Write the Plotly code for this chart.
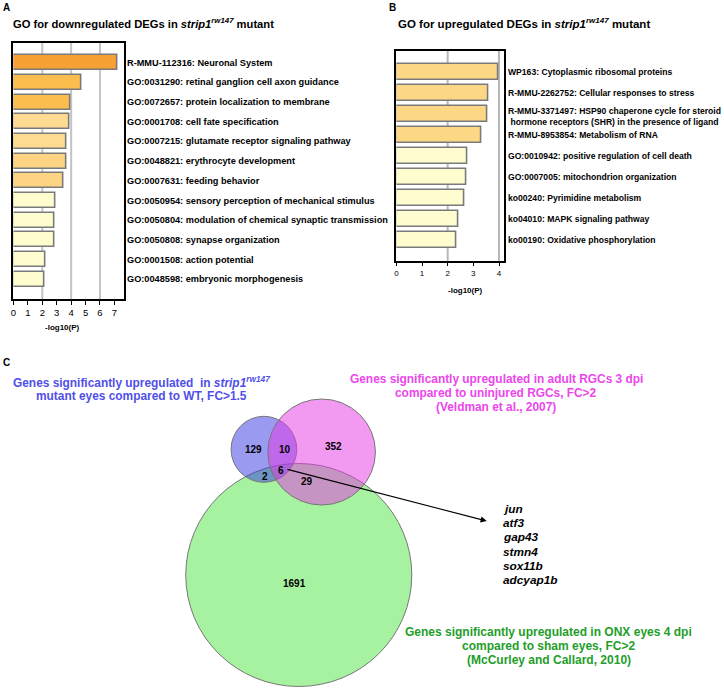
import plotly.graph_objects as go

# ---------------- data ----------------
a_terms = [
    "R-MMU-112316: Neuronal System",
    "GO:0031290: retinal ganglion cell axon guidance",
    "GO:0072657: protein localization to membrane",
    "GO:0001708: cell fate specification",
    "GO:0007215: glutamate receptor signaling pathway",
    "GO:0048821: erythrocyte development",
    "GO:0007631: feeding behavior",
    "GO:0050954: sensory perception of mechanical stimulus",
    "GO:0050804: modulation of chemical synaptic transmission",
    "GO:0050808: synapse organization",
    "GO:0001508: action potential",
    "GO:0048598: embryonic morphogenesis",
]
a_values = [7.24, 4.71, 3.95, 3.88, 3.65, 3.67, 3.49, 2.92, 2.87, 2.85, 2.23, 2.18]

b_terms = [
    "WP163: Cytoplasmic ribosomal proteins",
    "R-MMU-2262752: Cellular responses to stress",
    "R-MMU-3371497: HSP90 chaperone cycle for steroid<br> hormone receptors (SHR) in the presence of ligand",
    "R-MMU-8953854: Metabolism of RNA",
    "GO:0010942: positive regulation of cell death",
    "GO:0007005: mitochondrion organization",
    "ko00240: Pyrimidine metabolism",
    "ko04010: MAPK signaling pathway",
    "ko00190: Oxidative phosphorylation",
]
b_values = [3.98, 3.57, 3.54, 3.33, 2.75, 2.74, 2.65, 2.41, 2.32]

a_ticks = [0, 1, 2, 3, 4, 5, 6, 7]
b_ticks = [0, 1, 2, 3, 4]

venn_labels = {
    "blue": ["Genes significantly upregulated  in <i>strip1</i><sup><i>rw147</i></sup>",
             "mutant eyes compared to WT, FC>1.5"],
    "pink": ["Genes significantly upregulated in adult RGCs 3 dpi",
             "compared to uninjured RGCs, FC>2",
             "(Veldman et al., 2007)"],
    "green": ["Genes significantly upregulated in ONX eyes 4 dpi",
              "compared to sham eyes, FC>2",
              "(McCurley and Callard, 2010)"],
}
venn_regions = ["blue_only", "blue_pink", "pink_only", "blue_green", "all", "pink_green", "green_only"]
venn_counts = [129, 10, 352, 2, 6, 29, 1691]
genes = ["jun", "atf3", "gap43", "stmn4", "sox11b", "adcyap1b"]

# ---------------- styles / layout geometry ----------------
W, H = 724, 688
FONT = "Liberation Sans, Arial, sans-serif"


def px(x):
    return x / W


def py(y):
    return 1 - y / H


a_colors = ["#F7A033", "#FBBD4E", "#FBBD4E", "#FDDC92", "#FDDC92", "#FCD483", "#FCD483",
            "#FFFDCF", "#FFFDCF", "#FFFDCF", "#FFFDCF", "#FFFDCF"]
b_colors = ["#FCD886"] * 4 + ["#FFFDCF"] * 5

fig = go.Figure()

fig.add_trace(go.Bar(
    x=a_values, y=list(range(len(a_values))), orientation="h",
    marker=dict(color=a_colors, line=dict(color="#7a7a7a", width=1.6)),
    width=0.76, xaxis="x", yaxis="y", hoverinfo="x",
))
fig.add_trace(go.Bar(
    x=b_values, y=list(range(len(b_values))), orientation="h",
    marker=dict(color=b_colors, line=dict(color="#7a7a7a", width=1.6)),
    width=0.75, xaxis="x2", yaxis="y2", hoverinfo="x",
))

axis_common = dict(showline=True, linecolor="black", linewidth=1.5, mirror=True,
                   showgrid=False, zeroline=False)

fig.update_layout(
    width=W, height=H, margin=dict(l=0, r=0, t=0, b=0),
    paper_bgcolor="white", plot_bgcolor="rgba(0,0,0,0)",
    showlegend=False, bargap=0,
    font=dict(family=FONT, color="black"),
    xaxis=dict(domain=[px(10.5), px(122)], range=[0, 7.7], anchor="y",
               tickvals=a_ticks, ticks="outside", ticklen=4, tickwidth=1.3, tickcolor="black",
               tickfont=dict(size=9.5, family=FONT, color="black"),
               **axis_common),
    yaxis=dict(domain=[py(299), py(43)], range=[len(a_values), -1], anchor="x",
               showticklabels=False, ticks="", **axis_common),
    xaxis2=dict(domain=[px(395), px(502.7)], range=[0, 4.18], anchor="y2",
                tickvals=b_ticks, ticks="outside", ticklen=4, tickwidth=1.2, tickcolor="black",
                tickfont=dict(size=8, family=FONT, color="black"),
                **axis_common),
    yaxis2=dict(domain=[py(260.7), py(51)], range=[len(b_values), -1], anchor="x2",
                showticklabels=False, ticks="", **axis_common),
)

shapes = []
# gridlines
for g in a_ticks[2::2]:
    shapes.append(dict(type="line", xref="x", yref="y domain", x0=g, x1=g, y0=0, y1=1,
                       line=dict(color="#c4c4c4", width=2), layer="below"))
for g in b_ticks[2::2]:
    shapes.append(dict(type="line", xref="x2", yref="y2 domain", x0=g, x1=g, y0=0, y1=1,
                       line=dict(color="#b8b8b8", width=2), layer="below"))

# Venn circles (pixel geometry): green, blue, pink (drawn in that order)
circles = [
    ((297, 575), (113.5, 111.5), "rgba(77,229,65,0.5)"),
    ((262, 449.3), (33, 33), "rgba(53,53,225,0.5)"),
    ((320, 452), (54, 53), "rgba(229,53,229,0.5)"),
]
for (cx, cy), (rx, ry), col in circles:
    shapes.append(dict(type="circle", xref="paper", yref="paper",
                       x0=px(cx - rx), x1=px(cx + rx), y0=py(cy + ry), y1=py(cy - ry),
                       fillcolor=col, line=dict(color="#777777", width=1), layer="above"))
fig.update_layout(shapes=shapes)

ann = []


def text(x, y, s, size, color="black", xanchor="left", yanchor="middle", align="left", bold=True):
    ann.append(dict(xref="paper", yref="paper", x=px(x), y=py(y), text=(f"<b>{s}</b>" if bold else s),
                    showarrow=False, xanchor=xanchor, yanchor=yanchor, align=align,
                    font=dict(size=size, color=color, family=FONT)))


# panel letters and titles
text(4, 7, "A", 10, xanchor="center")
text(390.7, 7, "B", 10, xanchor="center")
text(4, 362, "C", 10, xanchor="center")
text(8, 23, "GO for downregulated DEGs in <i>strip1</i><sup><i>rw147</i></sup> mutant", 11.2)
text(394.5, 23, "GO for upregulated DEGs in <i>strip1</i><sup><i>rw147</i></sup> mutant", 11.5)
text(60, 327, "-log10(P)", 8, xanchor="center")
text(464, 290, "-log10(P)", 8, xanchor="center")

# bar labels
for i, t in enumerate(a_terms):
    ann.append(dict(xref="paper", yref="y", x=px(122.5), y=i, text=f"<b>{t}</b>", showarrow=False,
                    xanchor="left", yanchor="middle", align="left",
                    font=dict(size=9.2, family=FONT, color="black")))
for i, t in enumerate(b_terms):
    yy = i + (0.12 if "<br>" in t else 0)
    ann.append(dict(xref="paper", yref="y2", x=px(505.5), y=yy, text=f"<b>{t}</b>", showarrow=False,
                    xanchor="left", yanchor="middle", align="left",
                    font=dict(size=8.6, family=FONT, color="black")))

# Venn set labels (one annotation per line)
label_style = {
    "blue": (139, 382, "#5050E8", 11.9),
    "pink": (495.5, 379, "#EC46EC", 11.9),
    "green": (548, 631.7, "#1E9E2A", 12),
}
for key, lines in venn_labels.items():
    cx, y0, col, size = label_style[key]
    for k, line in enumerate(lines):
        text(cx, y0 + 14.1 * k, line, size, color=col, xanchor="center", align="center")

# Venn counts
count_pos = {
    "blue_only": (251.7, 449.3), "blue_pink": (282.7, 449.3), "pink_only": (331.7, 446),
    "blue_green": (262.7, 476), "all": (279.5, 470.5), "pink_green": (305, 481.7),
    "green_only": (292.7, 583),
}
for r, c in zip(venn_regions, venn_counts):
    x, y = count_pos[r]
    text(x, y, str(c), 10, xanchor="center")

# arrow from the triple region to gene list
ann.append(dict(xref="paper", yref="paper", x=px(485.7), y=py(521), ax=285 - 485.7, ay=469 - 521,
                axref="pixel", ayref="pixel", text="", showarrow=True, arrowhead=2,
                arrowsize=1.1, arrowwidth=1.1, arrowcolor="black"))

# gene list
for k, g in enumerate(genes):
    text(500, 509 + 14.2 * k, f"<i>{g}</i>", 11.8)

fig.update_layout(annotations=ann)
fig.write_html(
    "out.html",
    config={"displayModeBar": False},
    post_script="document.body.style.margin='0';document.body.style.overflow='hidden';",
)
